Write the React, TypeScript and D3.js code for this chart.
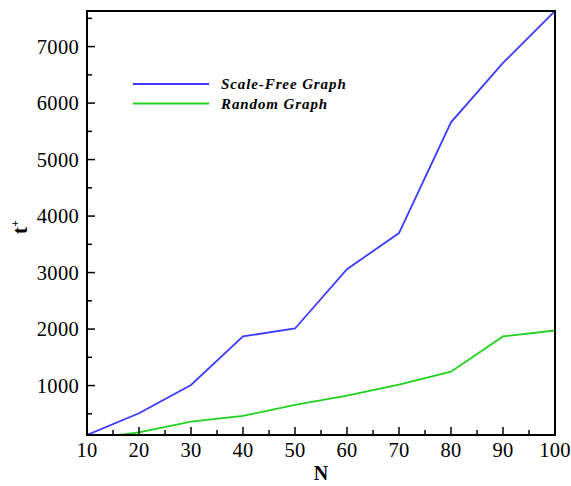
import { useEffect, useRef } from "react"
import * as d3 from "d3"

const N_VALUES = [10, 20, 30, 40, 50, 60, 70, 80, 90, 100]
const SCALE_FREE = [125, 510, 1010, 1870, 2010, 3060, 3700, 5660, 6710, 7630]
const RANDOM = [50, 172, 362, 462, 660, 820, 1015, 1245, 1870, 1975]
const X_TICKS = [10, 20, 30, 40, 50, 60, 70, 80, 90, 100]
const Y_TICKS = [1000, 2000, 3000, 4000, 5000, 6000, 7000]
const LEGEND = ["Scale-Free Graph", "Random Graph"]

const BLUE = "#3c3cff"
const GREEN = "#1ed21e"
const INK = "#000"
const SERIF = "'Liberation Serif', 'Times New Roman', serif"

export default function App() {
  const ref = useRef<SVGSVGElement>(null)

  useEffect(() => {
    if (!ref.current) return
    const W = 571
    const H = 486
    const M = { top: 11, right: 16, bottom: 51, left: 87 }
    const plotW = W - M.left - M.right
    const plotH = H - M.top - M.bottom

    const svg = d3.select(ref.current)
    svg.selectAll("*").remove()
    svg.attr("width", W).attr("height", H)

    const x = d3.scaleLinear().domain([10, 100]).range([0, plotW])
    const y = d3.scaleLinear().domain([125, 7630]).range([plotH, 0])

    const plot = svg.append("g").attr("transform", `translate(${M.left},${M.top})`)

    plot
      .append("clipPath")
      .attr("id", "plot-clip")
      .append("rect")
      .attr("width", plotW)
      .attr("height", plotH)

    // Series
    const line = d3
      .line<number>()
      .x((_, i) => x(N_VALUES[i]))
      .y((d) => y(d))

    const series = [
      { values: SCALE_FREE, color: BLUE },
      { values: RANDOM, color: GREEN },
    ]
    plot
      .append("g")
      .attr("clip-path", "url(#plot-clip)")
      .selectAll("path")
      .data(series)
      .join("path")
      .attr("d", (s) => line(s.values))
      .attr("fill", "none")
      .attr("stroke", (s) => s.color)
      .attr("stroke-width", 1.8)

    // Frame
    plot
      .append("rect")
      .attr("width", plotW)
      .attr("height", plotH)
      .attr("fill", "none")
      .attr("stroke", INK)
      .attr("stroke-width", 2)

    // Ticks (inward), minor every half step
    const xMinor = d3.range(15, 100, 10)
    const yMinor = d3.range(500, 7600, 1000)

    plot
      .append("g")
      .selectAll("line")
      .data([...X_TICKS.map((t) => ({ t, len: 8 })), ...xMinor.map((t) => ({ t, len: 5 }))])
      .join("line")
      .attr("x1", (d) => x(d.t))
      .attr("x2", (d) => x(d.t))
      .attr("y1", plotH)
      .attr("y2", (d) => plotH - d.len)
      .attr("stroke", INK)
      .attr("stroke-width", 1.5)

    plot
      .append("g")
      .selectAll("line")
      .data([...Y_TICKS.map((t) => ({ t, len: 8 })), ...yMinor.map((t) => ({ t, len: 5 }))])
      .join("line")
      .attr("y1", (d) => y(d.t))
      .attr("y2", (d) => y(d.t))
      .attr("x1", 0)
      .attr("x2", (d) => d.len)
      .attr("stroke", INK)
      .attr("stroke-width", 1.5)

    // Tick labels
    plot
      .append("g")
      .selectAll("text")
      .data(X_TICKS)
      .join("text")
      .attr("x", (t) => x(t))
      .attr("y", plotH + 22)
      .attr("text-anchor", "middle")
      .attr("font-family", SERIF)
      .attr("font-size", 20.5)
      .attr("letter-spacing", "0.3px")
      .attr("fill", INK)
      .text((t) => t)

    plot
      .append("g")
      .selectAll("text")
      .data(Y_TICKS)
      .join("text")
      .attr("x", -8)
      .attr("y", (t) => y(t))
      .attr("dy", "0.35em")
      .attr("text-anchor", "end")
      .attr("font-family", SERIF)
      .attr("font-size", 20.5)
      .attr("letter-spacing", "0.3px")
      .attr("fill", INK)
      .text((t) => t)

    // Axis titles
    svg
      .append("text")
      .attr("x", M.left + plotW / 2)
      .attr("y", H - 6)
      .attr("text-anchor", "middle")
      .attr("font-family", SERIF)
      .attr("font-weight", 700)
      .attr("font-size", 20)
      .attr("fill", INK)
      .text("N")

    const yTitle = svg
      .append("text")
      .attr("transform", `translate(27, ${M.top + plotH / 2 + 4}) rotate(-90)`)
      .attr("text-anchor", "middle")
      .attr("font-family", SERIF)
      .attr("font-weight", 700)
      .attr("font-size", 21)
      .attr("fill", INK)
    yTitle.append("tspan").text("t")
    yTitle.append("tspan").attr("dy", -8).attr("font-size", 12).text("+")

    // Legend
    const legend = svg.append("g").attr("transform", "translate(133, 84)")
    const rows = legend
      .selectAll("g")
      .data(LEGEND)
      .join("g")
      .attr("transform", (_, i) => `translate(0, ${i * 19.5})`)
    rows
      .append("line")
      .attr("x1", 0)
      .attr("x2", 76)
      .attr("stroke", (_, i) => series[i].color)
      .attr("stroke-width", 1.8)
    rows
      .append("text")
      .attr("x", 88)
      .attr("y", 5)
      .attr("font-family", SERIF)
      .attr("font-style", "italic")
      .attr("font-weight", 700)
      .attr("font-size", 15)
      .attr("letter-spacing", "0.06em")
      .attr("fill", INK)
      .text((d) => d)
  }, [])

  return <svg ref={ref} style={{ position: "absolute", left: 0, top: 0, background: "#fff" }} />
}
